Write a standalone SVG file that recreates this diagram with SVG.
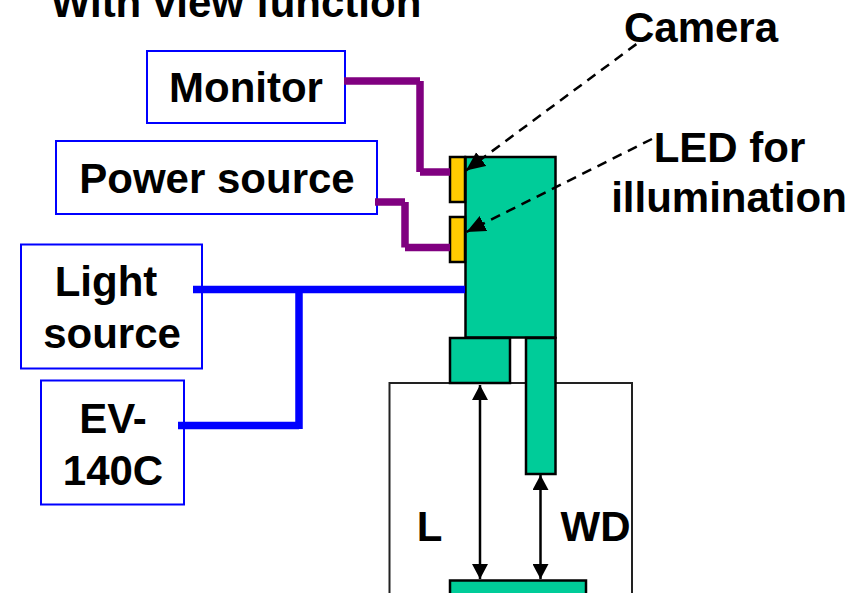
<svg xmlns="http://www.w3.org/2000/svg" width="864" height="593" viewBox="0 0 864 593">
<style>
text{font-family:"Liberation Sans",Arial,sans-serif;font-weight:700;font-size:42px;fill:#000;text-anchor:middle}
.box{fill:#fff;stroke:#0000ff;stroke-width:2}
.g{fill:#00cc99;stroke:#000;stroke-width:2.500}
.y{fill:#ffcc00;stroke:#000;stroke-width:2.500}
.p{fill:none;stroke:#800080;stroke-width:7.500}
.b{fill:none;stroke:#0000ff;stroke-width:7.500}
.k{fill:none;stroke:#000;stroke-width:2.500}
.d{fill:none;stroke:#000;stroke-width:2.500;stroke-dasharray:10 7}
</style>
<defs>
<marker id="ah" markerUnits="userSpaceOnUse" markerWidth="16" markerHeight="16" refX="15" refY="8" orient="auto"><path d="M0,0L15,8L0,16Z" fill="#000"/></marker>
<marker id="as" markerUnits="userSpaceOnUse" markerWidth="16" markerHeight="16" refX="0" refY="8" orient="auto"><path d="M15,0L0,8L15,16Z" fill="#000"/></marker>
<marker id="ad" markerUnits="userSpaceOnUse" markerWidth="20" markerHeight="18" refX="19" refY="8.500" orient="auto"><path d="M0,0L19,8.500L0,17Z" fill="#000"/></marker>
</defs>
<rect x="0" y="0" width="864" height="593" fill="#fff"/>
<g id="frame"><path d="M389.500,593V383H632V593" fill="none" stroke="#222" stroke-width="2"/></g>
<g id="title"><text x="236" y="16.500">With view function</text></g>
<g id="monitor"><rect class="box" x="147" y="51" width="198" height="72"/><text x="246" y="102">Monitor</text></g>
<g id="power-source"><rect class="box" x="56" y="141" width="321" height="73"/><text x="217" y="193">Power source</text></g>
<g id="light-source"><rect class="box" x="21" y="244.500" width="181" height="124"/><text x="106" y="296">Light</text><text x="112" y="348">source</text></g>
<g id="ev-140c"><rect class="box" x="41" y="380.500" width="143" height="124"/><text x="113" y="433">EV-</text><text x="113" y="485">140C</text></g>
<g id="camera-body"><rect class="g" x="465.500" y="157" width="90" height="180.500"/></g>
<g id="camera"><rect class="y" x="450" y="157" width="15" height="45"/></g>
<g id="led"><rect class="y" x="450" y="217" width="15" height="45"/></g>
<g id="lens"><rect class="g" x="450" y="338" width="60" height="45"/></g>
<g id="guide"><rect class="g" x="526" y="338" width="29.500" height="136"/></g>
<g id="target"><rect class="g" x="450" y="580.500" width="136" height="20"/></g>
<g id="connectors">
<path class="p" d="M344,81H420M420,81V172M420,172H450"/>
<path class="p" d="M375,202H405M405,202V247.500M405,247.500H450"/>
<path class="b" d="M193,289.500H465"/>
<path class="b" d="M178,425.500H299M299,289.500V429"/>
<path class="d" d="M650,34L466,170.500" marker-end="url(#ad)"/>
<path class="d" d="M652,139L466.500,232" marker-end="url(#ad)"/>
<path class="k" d="M480,385V579" marker-start="url(#as)" marker-end="url(#ah)"/>
<path class="k" d="M540.500,475V579" marker-start="url(#as)" marker-end="url(#ah)"/>
</g>
<g id="labels">
<text x="701" y="42">Camera</text>
<text x="729.500" y="162">LED for</text>
<text x="729" y="212">illumination</text>
<text x="429.500" y="541">L</text>
<text x="595.500" y="541">WD</text>
</g>
</svg>
